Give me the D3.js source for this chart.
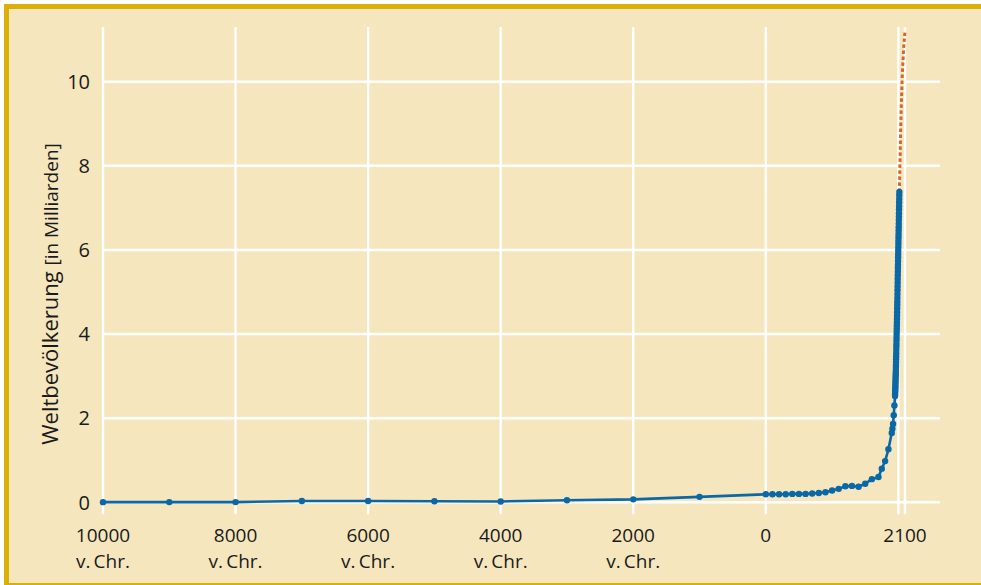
<!DOCTYPE html>
<html>
<head>
<meta charset="utf-8">
<script src="https://cdn.jsdelivr.net/npm/d3@7"></script>
<style>
  html, body { margin: 0; padding: 0; background: #ffffff; }
  svg { display: block; }
  text { font-family: "Open Sans", "Noto Sans", sans-serif; fill: #1a1a1a; }
</style>
</head>
<body>
<svg id="chart" width="981" height="585"></svg>
<script>
// ---- Data (world population, billions) ----
const histYears = [-10000, -9000, -8000, -7000, -6000, -5000, -4000, -3000, -2000, -1000,
  0, 100, 200, 300, 400, 500, 600, 700, 800, 900, 1000, 1100, 1200, 1300, 1400, 1500, 1600, 1700,
  1750, 1800, 1850, 1900, 1910, 1920, 1930, 1940,
  1950, 1951, 1952, 1953, 1954, 1955, 1956, 1957, 1958, 1959,
  1960, 1961, 1962, 1963, 1964, 1965, 1966, 1967, 1968, 1969,
  1970, 1971, 1972, 1973, 1974, 1975, 1976, 1977, 1978, 1979,
  1980, 1981, 1982, 1983, 1984, 1985, 1986, 1987, 1988, 1989,
  1990, 1991, 1992, 1993, 1994, 1995, 1996, 1997, 1998, 1999,
  2000, 2001, 2002, 2003, 2004, 2005, 2006, 2007, 2008, 2009,
  2010, 2011, 2012, 2013, 2014, 2015];
const histPop = [0.004, 0.005, 0.005, 0.03, 0.03, 0.025, 0.02, 0.05, 0.07, 0.13,
  0.19, 0.19, 0.19, 0.19, 0.2, 0.2, 0.2, 0.21, 0.22, 0.24, 0.28, 0.32, 0.38, 0.39, 0.37, 0.44, 0.55, 0.6,
  0.8, 0.98, 1.26, 1.65, 1.75, 1.86, 2.07, 2.3,
  2.53, 2.57, 2.62, 2.66, 2.71, 2.76, 2.81, 2.86, 2.91, 2.97,
  3.02, 3.07, 3.13, 3.2, 3.26, 3.33, 3.4, 3.47, 3.54, 3.62,
  3.7, 3.77, 3.85, 3.92, 4.0, 4.07, 4.14, 4.21, 4.28, 4.36,
  4.44, 4.52, 4.61, 4.69, 4.77, 4.86, 4.95, 5.04, 5.13, 5.22,
  5.31, 5.4, 5.48, 5.57, 5.65, 5.74, 5.82, 5.9, 5.98, 6.06,
  6.14, 6.22, 6.3, 6.38, 6.46, 6.54, 6.62, 6.71, 6.79, 6.87,
  6.96, 7.04, 7.13, 7.21, 7.3, 7.38];
const projYears = [2015, 2020, 2030, 2040, 2050, 2060, 2070, 2080, 2090, 2100];
const projPop = [7.38, 7.76, 8.5, 9.2, 9.7, 10.2, 10.5, 10.8, 11.0, 11.2];

const xTickValues = [-10000, -8000, -6000, -4000, -2000, 0, 2000, 2100];
const xTickLine1 = ["10000", "8000", "6000", "4000", "2000", "0", "", "2100"];
const xTickLine2 = ["v.\u2009Chr.", "v.\u2009Chr.", "v.\u2009Chr.", "v.\u2009Chr.", "v.\u2009Chr.", "", "", ""];
const yTickValues = [0, 2, 4, 6, 8, 10];
const yTitleMain = "Weltbevölkerung";
const yTitleUnit = "[in Milliarden]";

// ---- Layout ----
const svg = d3.select("#chart");
const W = 981, H = 585;
const x = d3.scaleLinear().domain([-10000, 2100]).range([103, 905]);
const y = d3.scaleLinear().domain([0, 10]).range([502.3, 81.7]);
const gridRight = 940;
const gridTopVal = 11.3;

// background + border
svg.append("rect").attr("x", 0).attr("y", 0).attr("width", W).attr("height", H).attr("fill", "#ffffff");
svg.append("rect")
  .attr("x", 6.5).attr("y", 6.5).attr("width", W + 20).attr("height", 579)
  .attr("fill", "#F5E6BE").attr("stroke", "#DBAF05").attr("stroke-width", 5);

// grid
const grid = svg.append("g");
grid.selectAll("line.h").data(yTickValues).join("line")
  .attr("class", "h")
  .attr("x1", x(-10000)).attr("x2", gridRight)
  .attr("y1", d => y(d)).attr("y2", d => y(d))
  .attr("stroke", "#ffffff").attr("stroke-width", 2.4);
grid.selectAll("line.v").data(xTickValues).join("line")
  .attr("class", "v")
  .attr("x1", d => x(d)).attr("x2", d => x(d))
  .attr("y1", y(gridTopVal)).attr("y2", y(0) + 12)
  .attr("stroke", "#ffffff").attr("stroke-width", 2.4);

// y tick labels
svg.append("g").selectAll("text").data(yTickValues).join("text")
  .attr("x", 90).attr("y", d => y(d)).attr("dy", "0.36em")
  .attr("text-anchor", "end").attr("font-size", 20)
  .text(d => d);

// x tick labels (two lines in one text element)
const xl = svg.append("g").selectAll("text").data(xTickValues).join("text")
  .attr("text-anchor", "middle").attr("font-size", 19)
  .attr("y", 541.5);
xl.append("tspan").attr("x", d => x(d)).text((d, i) => xTickLine1[i]);
xl.append("tspan").attr("x", d => x(d)).attr("dy", 26.2).text((d, i) => xTickLine2[i]);

// y axis title
const yt = svg.append("text")
  .attr("transform", `translate(58,${(y(0) + y(10)) / 2 + 2}) rotate(-90)`)
  .attr("text-anchor", "middle");
yt.append("tspan").attr("font-size", 22).text(yTitleMain + " ");
yt.append("tspan").attr("font-size", 19).text(yTitleUnit);

// projection (dotted)
const proj = projYears.map((d, i) => [d, projPop[i]]);
svg.append("path").datum(proj)
  .attr("fill", "none").attr("stroke", "#D4682A").attr("stroke-width", 3)
  .attr("stroke-dasharray", "3.5,2.5")
  .attr("d", d3.line().x(d => x(d[0])).y(d => y(d[1])).curve(d3.curveMonotoneY));

// historical line + dots
const hist = histYears.map((d, i) => [d, histPop[i]]);
svg.append("path").datum(hist)
  .attr("fill", "none").attr("stroke", "#0A68A6").attr("stroke-width", 2.6)
  .attr("stroke-linejoin", "round")
  .attr("d", d3.line().x(d => x(d[0])).y(d => y(d[1])));
svg.append("g").selectAll("circle").data(hist).join("circle")
  .attr("cx", d => x(d[0])).attr("cy", d => y(d[1])).attr("r", 3.2)
  .attr("fill", "#0A68A6");
</script>
</body>
</html>
